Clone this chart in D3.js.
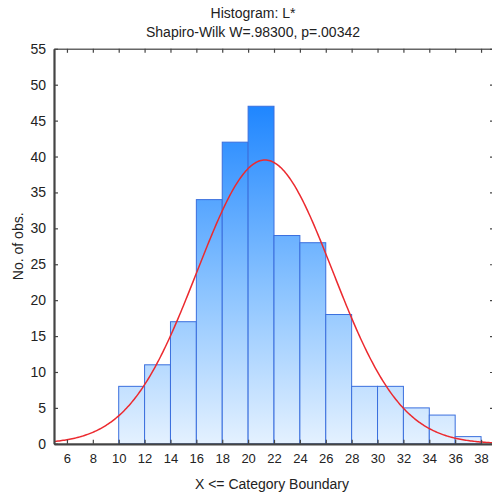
<!DOCTYPE html>
<html>
<head>
<meta charset="utf-8">
<script src="https://cdn.jsdelivr.net/npm/d3@7"></script>
<style>
  body { margin: 0; background: #fff; }
  text { font-family: "Liberation Sans", Arial, sans-serif; fill: #222; }
</style>
</head>
<body>
<div id="chart"></div>
<script>
// bin lower boundaries (width 2) and counts
const binStart = [10, 12, 14, 16, 18, 20, 22, 24, 26, 28, 30, 32, 34, 36]
const counts = [8, 11, 17, 34, 42, 47, 29, 28, 18, 8, 8, 5, 4, 1]
const binWidth = 2
const xTicks = [6, 8, 10, 12, 14, 16, 18, 20, 22, 24, 26, 28, 30, 32, 34, 36, 38]
const yTicks = [0, 5, 10, 15, 20, 25, 30, 35, 40, 45, 50, 55]
// fitted normal
const fitMean = 21.3
const fitSd = 5.25

const width = 492, height = 495
const margin = {top: 48.8, right: -2, bottom: 51.2, left: 54}
const w = width - margin.left - margin.right
const h = height - margin.top - margin.bottom

const svg = d3.select('#chart').append('svg')
  .attr('width', width)
  .attr('height', height)

const x = d3.scaleLinear().domain([5, 39]).range([0, w])
const y = d3.scaleLinear().domain([0, 55]).range([h, 0])

const defs = svg.append('defs')
const grad = defs.append('linearGradient')
  .attr('id', 'barGrad')
  .attr('gradientUnits', 'userSpaceOnUse')
  .attr('x1', 0).attr('x2', 0)
  .attr('y1', y(47)).attr('y2', y(0))
grad.append('stop').attr('offset', '0%').attr('stop-color', '#1f86ff')
grad.append('stop').attr('offset', '55%').attr('stop-color', '#8cc4ff')
grad.append('stop').attr('offset', '100%').attr('stop-color', '#e4f1ff')

defs.append('clipPath').attr('id', 'plotClip')
  .append('rect').attr('width', w).attr('height', h)

const g = svg.append('g')
  .attr('transform', `translate(${margin.left},${margin.top})`)

// bars
g.selectAll('.bar').data(counts)
  .enter().append('rect')
  .attr('class', 'bar')
  .attr('x', (d, i) => x(binStart[i]))
  .attr('y', d => y(d))
  .attr('width', (d, i) => x(binStart[i] + binWidth) - x(binStart[i]))
  .attr('height', d => y(0) - y(d))
  .style('fill', 'url(#barGrad)')
  .style('stroke', '#3a6fde')
  .style('stroke-width', 1)

// normal curve
const n = d3.sum(counts)
const curveX = d3.range(5, 39.01, 0.1)
const normal = v => n * binWidth / (fitSd * Math.sqrt(2 * Math.PI)) *
  Math.exp(-0.5 * Math.pow((v - fitMean) / fitSd, 2))
g.append('path')
  .datum(curveX)
  .attr('clip-path', 'url(#plotClip)')
  .attr('d', d3.line().x(d => x(d)).y(d => y(normal(d))))
  .style('fill', 'none')
  .style('stroke', '#ec2a2f')
  .style('stroke-width', 1.5)

// axes (ticks pointing inward)
const xAxis = g.append('g')
  .attr('transform', `translate(0,${h})`)
  .call(d3.axisBottom(x).tickValues(xTicks).tickSizeInner(-4).tickSizeOuter(0).tickPadding(10))
const xTop = g.append('g')
  .call(d3.axisTop(x).tickValues(xTicks).tickSizeInner(-4).tickSizeOuter(0).tickFormat(''))
const yAxis = g.append('g')
  .call(d3.axisLeft(y).tickValues(yTicks).tickSizeInner(-4).tickSizeOuter(0).tickPadding(8))
const yRight = g.append('g')
  .attr('transform', `translate(${w},0)`)
  .call(d3.axisRight(y).tickValues(yTicks).tickSizeInner(-4).tickSizeOuter(0).tickFormat(''))

g.selectAll('.tick line').style('stroke', '#444').style('stroke-width', 1.2)
g.selectAll('.domain').style('stroke', '#666').style('stroke-width', 1.5)
xAxis.select('.domain').style('stroke', '#444').style('stroke-width', 2.2)
yAxis.select('.domain').style('stroke', '#444').style('stroke-width', 2.2)
xAxis.selectAll('text').style('font-size', '13px').style('fill', '#222')
yAxis.selectAll('text').style('font-size', '14px').style('fill', '#222')

// titles
svg.append('text')
  .attr('x', 253).attr('y', 18)
  .attr('text-anchor', 'middle')
  .style('font-size', '14px')
  .text('Histogram: L*')
svg.append('text')
  .attr('x', 253).attr('y', 36.5)
  .attr('text-anchor', 'middle')
  .style('font-size', '14px')
  .text('Shapiro-Wilk W=.98300, p=.00342')

svg.append('text')
  .attr('x', margin.left + w / 2 - 2).attr('y', 489)
  .attr('text-anchor', 'middle')
  .style('font-size', '14px')
  .text('X <= Category Boundary')

svg.append('text')
  .attr('transform', `translate(23,${margin.top + h / 2}) rotate(-90)`)
  .attr('text-anchor', 'middle')
  .style('font-size', '14px')
  .text('No. of obs.')
</script>
</body>
</html>
